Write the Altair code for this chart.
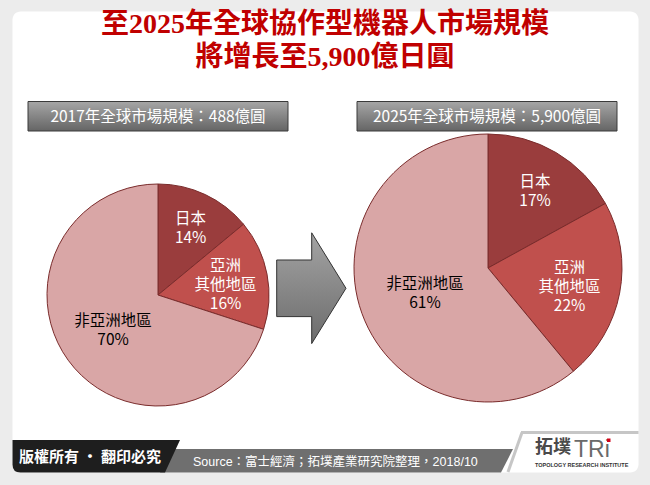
import altair as alt
import pandas as pd

# ---------------- data ----------------
regions = ["日本", "亞洲其他地區", "非亞洲地區"]
label_lines = ["日本", "亞洲\n其他地區", "非亞洲地區"]
share_2017 = [14, 16, 70]
share_2025 = [17, 22, 61]
years = [2017, 2025]
market_size = [488, 5900]  # 億圓
title_lines = ["至2025年全球協作型機器人市場規模", "將增長至5,900億日圓"]
source_text = "Source：富士經濟；拓墣產業研究院整理，2018/10"
copyright_text = "版權所有 · 翻印必究"

# ---------------- styles ----------------
slice_colors = ["#9a3d3d", "#c0504d", "#d9a6a6"]
label_colors = ["#ffffff", "#ffffff", "#000000"]
label_radius_ratio = [0.69, 0.62, 0.50]
pie_geom = {2017: dict(cx=158, cy=295, r=111), 2025: dict(cx=488, cy=268, r=134)}
box_geom = {2017: dict(x=28, x2=288), 2025: dict(x=357, x2=617)}
LH = 19
SANS = "Liberation Sans, Noto Sans CJK TC, sans-serif"
CJK = "Noto Sans CJK TC, sans-serif"
SERIF = "Liberation Serif, Noto Sans CJK TC, serif"

rows = []
for year, shares in zip(years, [share_2017, share_2025]):
    for i, (reg, lab, v) in enumerate(zip(regions, label_lines, shares)):
        rows.append({"year": year, "idx": i, "region": reg, "share": v,
                     "label": f"{lab}\n{v}%"})
df = pd.DataFrame(rows)

one = alt.Data(values=[{}])
theta_scale = alt.Scale(domain=[0, 100])


def grad(c1, c2):
    return alt.LinearGradient(
        gradient="linear",
        stops=[alt.GradientStop(color=c1, offset=0), alt.GradientStop(color=c2, offset=1)],
        x1=0, x2=0, y1=0, y2=1,
    )


layers = []

# card
layers.append(alt.Chart(one).mark_rect(fill="white", cornerRadius=8).encode(
    x=alt.value(12.5), x2=alt.value(638.5), y=alt.value(11.5), y2=alt.value(472.5)))

# title
for txt, yy in zip(title_lines, [25, 57.5]):
    layers.append(alt.Chart(one).mark_text(
        text=txt, font=SERIF, fontSize=28, fontWeight="bold", color="#c00000",
        align="center", baseline="middle").encode(x=alt.value(325), y=alt.value(yy)))

# header boxes
for year, size in zip(years, market_size):
    b = box_geom[year]
    layers.append(alt.Chart(one).mark_rect(
        fill=grad("#a6a6a6", "#656565"), stroke="#3a3a3a", strokeWidth=1).encode(
        x=alt.value(b["x"]), x2=alt.value(b["x2"]), y=alt.value(101.5), y2=alt.value(131)))
    layers.append(alt.Chart(one).mark_text(
        text=f"{year}年全球市場規模：{size:,}億圓", font=CJK, fontSize=15.5,
        color="white", align="center", baseline="middle").encode(
        x=alt.value((b["x"] + b["x2"]) / 2), y=alt.value(116.5)))

# pies
for year in years:
    g = pie_geom[year]
    base = alt.Chart(df).transform_filter(f"datum.year == {year}")
    layers.append(base.mark_arc(outerRadius=g["r"], stroke="#7a2c2c", strokeWidth=1).encode(
        theta=alt.Theta("share:Q", stack=True, scale=theta_scale),
        color=alt.Color("region:N", scale=alt.Scale(domain=regions, range=slice_colors), legend=None),
        order=alt.Order("idx:Q"),
        x=alt.value(g["cx"]), y=alt.value(g["cy"]),
    ))
    stacked = (base.transform_stack(stack="share", as_=["s0", "s1"], groupby=[],
                                    sort=[alt.SortField("idx", order="ascending")])
               .transform_calculate(mid="(datum.s0 + datum.s1) / 2"))
    for i, reg in enumerate(regions):
        n_lines = label_lines[i].count("\n") + 2
        layers.append(
            stacked.transform_filter(f"datum.idx == {i}")
            .mark_text(font=CJK, fontSize=15.5, lineBreak="\n", lineHeight=LH,
                       align="center", baseline="middle", color=label_colors[i],
                       radius=label_radius_ratio[i] * g["r"], dy=-(n_lines - 1) * LH / 2 + 3)
            .encode(
                theta=alt.Theta("mid:Q", stack=None, scale=theta_scale),
                text="label:N",
                x=alt.value(g["cx"]), y=alt.value(g["cy"]),
            ))

# arrow
arrow_path = "M -34.7 -28.3 L 0.3 -28.3 L 0.3 -55.5 L 34.6 0 L 0.3 55.3 L 0.3 28.3 L -34.7 28.3 Z"
layers.append(alt.Chart(one).mark_point(
    shape=arrow_path, size=4, filled=True, fill=grad("#a4a4a4", "#6c6c6c"),
    stroke="#333333", strokeWidth=1, opacity=1).encode(x=alt.value(311.4), y=alt.value(288.3)))

# footer grey band
band_path = "M 172 449 L 513 449 L 501 472.5 L 160 472.5 Z"
layers.append(alt.Chart(one).mark_point(
    shape=band_path, size=4, filled=True, fill="#6f6f6f", strokeWidth=0, opacity=1).encode(
    x=alt.value(0), y=alt.value(0)))
layers.append(alt.Chart(one).mark_text(
    text=source_text, font=SANS, fontSize=12.5, color="white", align="left",
    baseline="middle").encode(x=alt.value(193), y=alt.value(462)))

# footer dark box
dark_path = "M 12.5 440 L 180 440 L 165 472.5 L 20.5 472.5 Q 12.5 472.5 12.5 464.5 Z"
layers.append(alt.Chart(one).mark_point(
    shape=dark_path, size=4, filled=True, fill="#1e1e1e", strokeWidth=0, opacity=1).encode(
    x=alt.value(0), y=alt.value(0)))
layers.append(alt.Chart(one).mark_text(
    text=copyright_text, font=CJK, fontSize=15, fontWeight="bold", color="white",
    align="center", baseline="middle").encode(x=alt.value(90), y=alt.value(456.5)))

# logo frame lines
layers.append(alt.Chart(one).mark_rule(color="#c6c6c6", strokeWidth=3).encode(
    x=alt.value(508), y=alt.value(472), x2=alt.value(522), y2=alt.value(432.5)))
layers.append(alt.Chart(one).mark_rule(color="#c6c6c6", strokeWidth=3).encode(
    x=alt.value(521), y=alt.value(432.5), x2=alt.value(638.5), y2=alt.value(432.5)))

# logo
layers.append(alt.Chart(one).mark_text(
    text="拓墣", font=CJK, fontSize=18, fontWeight="bold", color="#4a4a4a",
    align="left", baseline="middle").encode(x=alt.value(535), y=alt.value(448)))
layers.append(alt.Chart(one).mark_text(
    text="TRi", font=SANS, fontSize=23, color="#6a6a6a",
    align="left", baseline="alphabetic").encode(x=alt.value(574), y=alt.value(457)))
layers.append(alt.Chart(one).mark_rect(fill="#d0021b").encode(
    x=alt.value(607), x2=alt.value(610.5), y=alt.value(438.5), y2=alt.value(442)))
layers.append(alt.Chart(one).mark_text(
    text="TOPOLOGY RESEARCH INSTITUTE", font=SANS, fontSize=5.5, fontWeight="bold",
    color="#333333", align="left", baseline="middle").encode(x=alt.value(535), y=alt.value(465)))

chart = alt.layer(*layers).properties(
    width=650, height=485, background="#ececec", padding=0,
    autosize=alt.AutoSizeParams(type="none"),
).configure_view(stroke=None)

chart.save("out.html", embed_options={"renderer": "svg", "actions": False})
